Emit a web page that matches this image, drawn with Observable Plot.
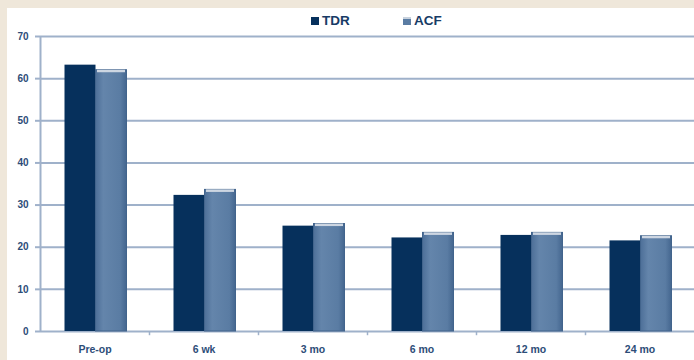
<!DOCTYPE html>
<html>
<head>
<meta charset="utf-8">
<script src="https://cdn.jsdelivr.net/npm/d3@7"></script>
<script src="https://cdn.jsdelivr.net/npm/@observablehq/plot@0.6"></script>
<style>
  html, body { margin: 0; padding: 0; }
  body { width: 694px; height: 360px; background: #efe7da; overflow: hidden; }
  #panel { position: absolute; left: 7px; top: 8px; width: 687px; height: 352px; background: #fff; overflow: hidden; }
  #chart { position: absolute; left: -7px; top: -8px; }
  .legend { position: absolute; top: 13px; display: flex; align-items: center; gap: 3px;
            font: bold 13.5px "Liberation Sans Narrow", "Liberation Sans", Arial, sans-serif; color: #173b66; }
  .sw { width: 8px; height: 8px; display: inline-block; }
</style>
</head>
<body>
<div id="panel"><div id="chart"></div></div>
<div class="legend" style="left:311px"><span class="sw" style="background:#06305c"></span>TDR</div>
<div class="legend" style="left:403px"><span class="sw" style="background:linear-gradient(#c8d2de 0 30%, #5a7ca3 30%)"></span>ACF</div>
<script>
// Follow-up time points and mean scores for each group
const categories = ["Pre-op", "6 wk", "3 mo", "6 mo", "12 mo", "24 mo"];
const tdr = [63.2, 32.3, 25.0, 22.2, 22.8, 21.5];
const acf = [62.0, 33.6, 25.5, 23.4, 23.4, 22.6];
const yTicks = [0, 10, 20, 30, 40, 50, 60, 70];

const W = 694, H = 360, mL = 40, mR = 0, mT = 36, mB = 29;
const bw = (W - mL - mR) / categories.length; // band width per time point
const barW = 31;
const shift = 1;

const rows = categories.map((c, i) => ({c, tdr: tdr[i], acf: acf[i]}));

const gridColor = "#9fb1ca";
const labelColor = "#2d4d78";
const font = '"Liberation Sans Narrow", "Liberation Sans", Arial, sans-serif';

const chart = Plot.plot({
  width: W, height: H,
  marginLeft: mL, marginRight: mR, marginTop: mT, marginBottom: mB,
  style: {background: "transparent", fontFamily: font, overflow: "visible"},
  x: {domain: categories, padding: 0, axis: null, label: null},
  y: {domain: [0, 70], axis: null, label: null},
  marks: [
    Plot.ruleY(yTicks, {stroke: gridColor, strokeWidth: 2}),
    Plot.axisY({ticks: yTicks, tickSize: 5, tickPadding: 7, stroke: gridColor, strokeWidth: 2,
                fill: labelColor, fontWeight: "bold", fontSize: 10, label: null}),
    // vertical axis line at the left edge of the first band
    Plot.ruleX([categories[0]], {dx: -bw / 2, y1: 0, y2: 70, stroke: gridColor, strokeWidth: 2}),
    // small separators between time points below the baseline
    Plot.ruleX(categories.slice(1), {dx: -bw / 2, y1: 0, y2: -1, stroke: gridColor, strokeWidth: 1.5}),
    Plot.barY(rows, {x: "c", y: "tdr", fill: "#06305c",
                     insetLeft: bw / 2 - barW + shift, insetRight: bw / 2 - shift}),
    Plot.barY(rows, {x: "c", y: "acf", fill: "url(#acfGrad)", stroke: "#42648c", strokeWidth: 1,
                     insetLeft: bw / 2 + shift, insetRight: bw / 2 - barW - shift}),
    // light top face of the ACF bars
    Plot.barY(rows, {x: "c", y1: d => d.acf - 0.6, y2: "acf", fill: "#cdd6e2",
                     insetLeft: bw / 2 + shift + 1.5, insetRight: bw / 2 - barW - shift + 1.5}),
    Plot.axisX({tickSize: 0, tickPadding: 14, fill: labelColor, fontWeight: "bold", fontSize: 10.5, label: null})
  ]
});

// horizontal shading of the ACF bars
const defs = d3.select(chart).insert("defs", ":first-child");
const g = defs.append("linearGradient").attr("id", "acfGrad").attr("x1", 0).attr("x2", 1).attr("y1", 0).attr("y2", 0);
[[0, "#4d6f98"], [0.25, "#6485ab"], [0.8, "#5a7ca3"], [1, "#44668f"]].forEach(([o, c]) =>
  g.append("stop").attr("offset", o).attr("stop-color", c));

document.getElementById("chart").appendChild(chart);
</script>
</body>
</html>
